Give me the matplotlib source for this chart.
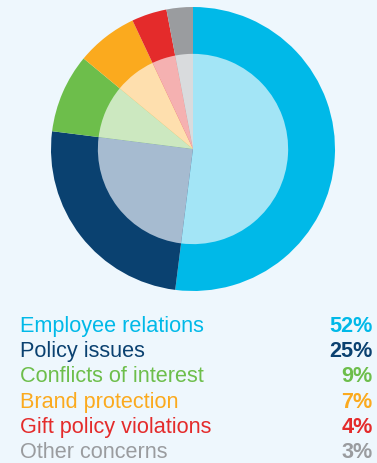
import matplotlib
matplotlib.use("Agg")
from matplotlib import pyplot as plt

labels = ["Employee relations", "Policy issues", "Conflicts of interest",
          "Brand protection", "Gift policy violations", "Other concerns"]
values = [52, 25, 9, 7, 4, 3]
dark = ["#00B9E8", "#0A4170", "#6DBE4B", "#FBAA1E", "#E42B2B", "#9A9C9F"]
light = ["#A3E5F6", "#A6BBD0", "#CCE8C0", "#FEDFAE", "#F5B1B1", "#D9DBDD"]
pct = ["%d%%" % v for v in values]

bg = "#EEF7FD"
plt.rcParams["font.family"] = ["Liberation Sans", "DejaVu Sans"]

fig = plt.figure(figsize=(3.77, 4.63), dpi=100, facecolor=bg)

# pie area: center (193, 149), outer radius ~142 px
W, H = 377, 463
r = 142
ax = fig.add_axes([(193 - r) / W, 1 - (149 + r) / H, 2 * r / W, 2 * r / H])
ax.set_facecolor(bg)
ax.pie(values, colors=dark, startangle=90, counterclock=False, radius=1.0,
       wedgeprops=dict(linewidth=0))
ax.pie(values, colors=light, startangle=90, counterclock=False, radius=0.67,
       wedgeprops=dict(linewidth=0))
ax.set_xlim(-1, 1)
ax.set_ylim(-1, 1)
ax.set_aspect("equal")
ax.axis("off")

# legend rows (baselines)
y0 = 331.7
step = 25.3
for i, (lab, p) in enumerate(zip(labels, pct)):
    y = 1 - (y0 + i * step) / H
    fig.text(20 / W, y, lab, color=dark[i], fontsize=15.6, va="baseline", ha="left")
    fig.text(372.5 / W, y, p, color=dark[i], fontsize=15.6, va="baseline", ha="right",
             fontweight="bold")

fig.savefig("out.png", dpi=100, facecolor=bg)
